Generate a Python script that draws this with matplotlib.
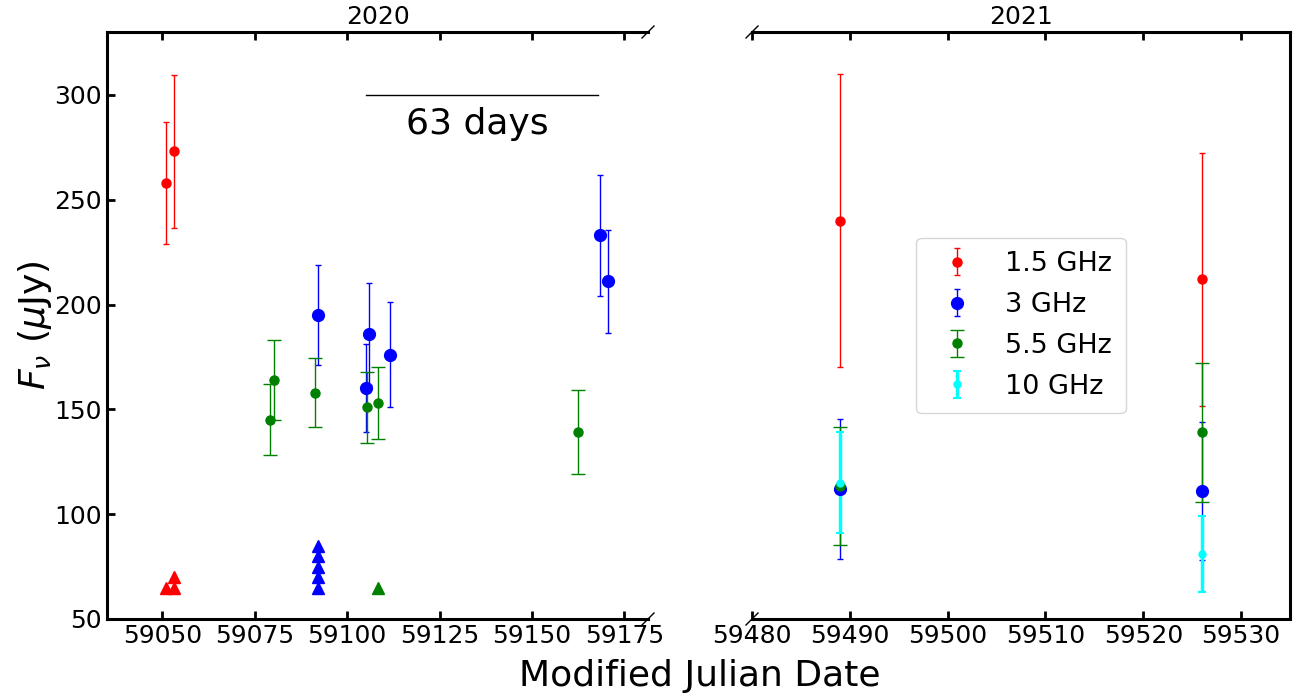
import matplotlib
matplotlib.use('Agg')
import matplotlib.pyplot as plt

# ---------------- data ----------------
# 2020 (left panel)
red20_x = [59051, 59053]
red20_y = [258, 273]
red20_e = [29, 36.5]

blue20_x = [59092, 59105, 59106, 59111.5, 59168.4, 59170.5]
blue20_y = [195, 160, 186, 176, 233, 211]
blue20_e = [24, 21, 24.5, 25, 29, 24.5]

green20_x = [59079, 59080.2, 59091.2, 59105.3, 59108.2, 59162.4]
green20_y = [145, 164, 158, 151, 153, 139]
green20_e = [17, 19, 16.6, 17, 17, 20]

# upper limits (triangles)
red_ul_x = [59051, 59053, 59053]
red_ul_y = [65, 65, 70]
blue_ul_x = [59092, 59092, 59092, 59092, 59092]
blue_ul_y = [65, 70, 75, 80, 85]
green_ul_x = [59108.2]
green_ul_y = [65]

# 2021 (right panel)
red21_x = [59489, 59526]
red21_y = [240, 212]
red21_e = [70, 60.5]
blue21_x = [59489, 59526]
blue21_y = [112, 111]
blue21_e = [33.5, 33]
green21_x = [59489, 59526]
green21_y = [113.5, 139]
green21_e = [28, 33]
cyan21_x = [59489, 59526]
cyan21_y = [115, 81]
cyan21_e = [24, 18]

labels = ['1.5 GHz', '3 GHz', '5.5 GHz', '10 GHz']
year_labels = ['2020', '2021']
left_ticks = [59050, 59075, 59100, 59125, 59150, 59175]
right_ticks = [59480, 59490, 59500, 59510, 59520, 59530]
y_ticks = [50, 100, 150, 200, 250, 300]
span_start, span_end = 59105, 59168

# ---------------- figure ----------------
W, H = 1294, 693
fig = plt.figure(figsize=(W / 100, H / 100), dpi=100)
ax1 = fig.add_axes([107 / W, 1 - 619 / H, 541 / W, 587 / H])
ax2 = fig.add_axes([752 / W, 1 - 619 / H, 538 / W, 587 / H])

style = {
    'red': dict(color='red', ms=6.5, capsize=2.5, elinewidth=1, capthick=1),
    'blue': dict(color='blue', ms=8.5, capsize=2.3, elinewidth=1, capthick=1),
    'green': dict(color='green', ms=6.5, capsize=4.7, elinewidth=1, capthick=1),
    'cyan': dict(color='cyan', ms=5, capsize=3.1, elinewidth=2.5, capthick=1.5),
}

# left panel
ax1.errorbar(red20_x, red20_y, yerr=red20_e, fmt='o', **style['red'])
ax1.errorbar(blue20_x, blue20_y, yerr=blue20_e, fmt='o', **style['blue'])
ax1.errorbar(green20_x, green20_y, yerr=green20_e, fmt='o', **style['green'])
ax1.plot(red_ul_x, red_ul_y, '^', color='red', ms=9, ls='none')
ax1.plot(blue_ul_x, blue_ul_y, '^', color='blue', ms=9, ls='none')
ax1.plot(green_ul_x, green_ul_y, '^', color='green', ms=9, ls='none')

# right panel
h1 = ax2.errorbar(red21_x, red21_y, yerr=red21_e, fmt='o', **style['red'])
h2 = ax2.errorbar(blue21_x, blue21_y, yerr=blue21_e, fmt='o', **style['blue'])
h3 = ax2.errorbar(green21_x, green21_y, yerr=green21_e, fmt='o', **style['green'])
h4 = ax2.errorbar(cyan21_x, cyan21_y, yerr=cyan21_e, fmt='o', **style['cyan'])

# 63 days marker
ax1.plot([span_start, span_end], [300, 300], color='black', lw=1)
ax1.text((span_start + span_end) / 2 - 1.2, 294, '63 days', ha='center', va='top',
         fontsize=26)

for ax in (ax1, ax2):
    ax.set_ylim(50, 330)
    for s in ax.spines.values():
        s.set_linewidth(2.2)
    ax.tick_params(axis='both', direction='in', length=6, width=2, labelsize=18,
                   top=True)

ax1.set_xlim(59035, 59181.4)
ax2.set_xlim(59480, 59535)
ax1.set_xticks(left_ticks)
ax2.set_xticks(right_ticks)
ax1.set_yticks(y_ticks)
ax2.set_yticks(y_ticks)

ax1.spines['right'].set_visible(False)
ax2.spines['left'].set_visible(False)
ax2.tick_params(axis='y', left=False, right=False, labelleft=False)
ax1.tick_params(axis='y', right=False)

ax1.set_title(year_labels[0], fontsize=18, pad=6)
ax2.set_title(year_labels[1], fontsize=18, pad=6)

ax1.set_ylabel(r'$F_\nu$ ($\mu$Jy)', fontsize=26, labelpad=0.5)
fig.text(0.541, 0.0, 'Modified Julian Date', ha='center', va='bottom', fontsize=26)

# break marks
dx1, dy1 = 6 / 541, 6 / 587
kw = dict(transform=ax1.transAxes, color='k', clip_on=False, lw=1)
ax1.plot((1 - dx1, 1 + dx1), (1 - dy1, 1 + dy1), **kw)
ax1.plot((1 - dx1, 1 + dx1), (-dy1, dy1), **kw)
dx2, dy2 = 6 / 538, 6 / 587
kw = dict(transform=ax2.transAxes, color='k', clip_on=False, lw=1)
ax2.plot((-dx2, dx2), (1 - dy2, 1 + dy2), **kw)
ax2.plot((-dx2, dx2), (-dy2, dy2), **kw)

ax2.legend([h1, h2, h3, h4], labels, loc='center', fontsize=19.5,
           handletextpad=0.8, borderpad=0.5, labelspacing=0.55)

fig.savefig('out.png', dpi=100)
